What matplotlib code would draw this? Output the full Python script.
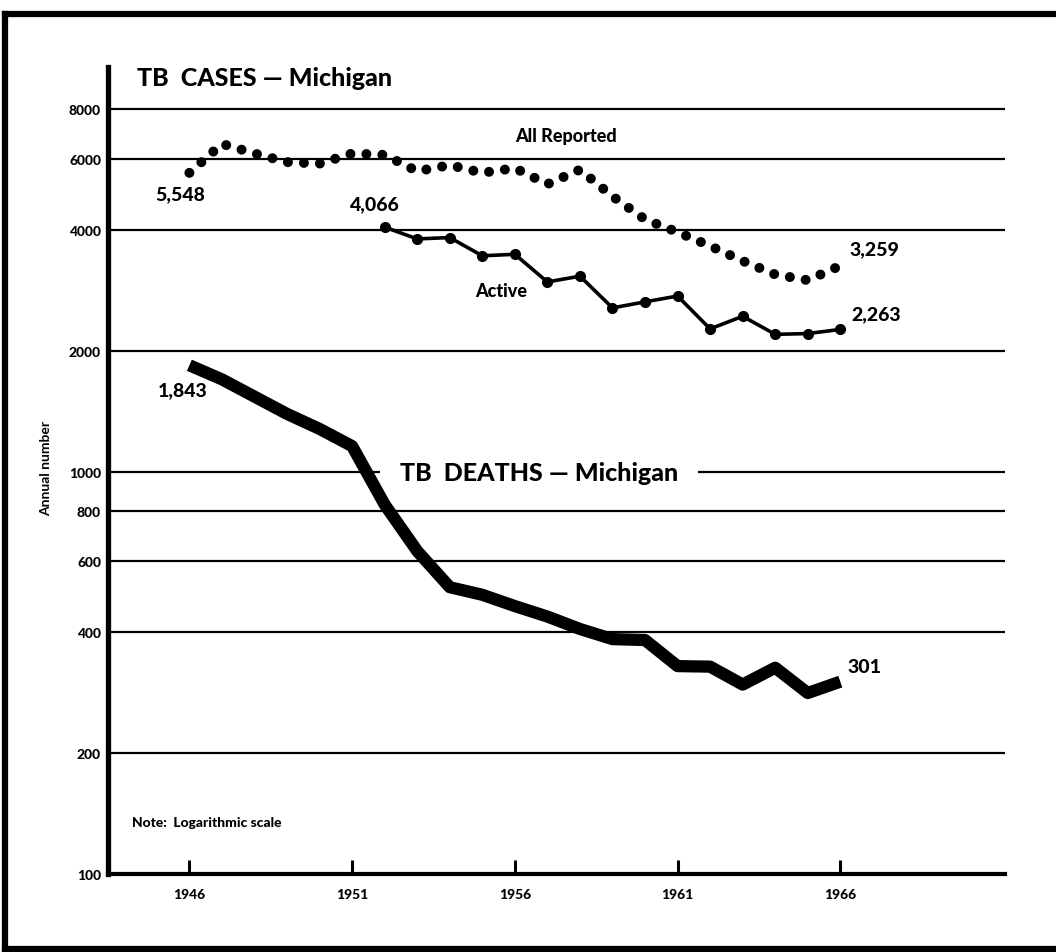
import matplotlib
matplotlib.use("Agg")
import matplotlib.pyplot as plt
from matplotlib.lines import Line2D

# ---------------------
# Data
# ---------------------
years = list(range(1946, 1967))
all_reported = [5548, 6550, 6200, 5900, 5850, 6200, 6150, 5600, 5800, 5550,
                5700, 5200, 5650, 4850, 4250, 3950, 3650, 3350, 3100, 3000, 3259]

active_years = list(range(1952, 1967))
active = [4066, 3800, 3830, 3450, 3480, 2970, 3070, 2560, 2650, 2740,
          2270, 2440, 2200, 2210, 2263]

deaths = [1843, 1700, 1540, 1395, 1280, 1160, 830, 636, 517, 495,
          464, 437, 407, 384, 382, 329, 328, 296, 326, 282, 301]

ytick_vals = [100, 200, 400, 600, 800, 1000, 2000, 4000, 6000, 8000]
ytick_labels = ["100", "200", "400", "600", "800", "1000", "2000", "4000", "6000", "8000"]
xtick_vals = [1946, 1951, 1956, 1961, 1966]
xtick_labels = ["1946", "1951", "1956", "1961", "1966"]

FONT = ["Lato", "DejaVu Sans"]
plt.rcParams["font.family"] = FONT
HEAVY = "black"

# ---------------------
# Figure
# ---------------------
fig = plt.figure(figsize=(10.56, 9.53), dpi=100)
ax = fig.add_axes([0.1023, 0.0818, 0.8494, 0.8468])

ax.set_yscale("log")
ax.set_xlim(1943.5, 1971.06)
ax.set_ylim(100, 10170)

# all reported: big round dots
ax.plot(years, all_reported, color="black", lw=7.2,
        linestyle=(0, (0.001, 1.6)), dash_capstyle="round", zorder=3)
# active: line with dots at each year
ax.plot(active_years, active, color="black", lw=2.6, marker="o", ms=7, zorder=3)
# deaths: heavy line
ax.plot(years, deaths, color="black", lw=8.8, solid_capstyle="butt",
        solid_joinstyle="round", zorder=5)

# axes styling
ax.set_yticks(ytick_vals)
ax.set_yticklabels(ytick_labels)
ax.yaxis.set_minor_locator(matplotlib.ticker.NullLocator())
ax.set_xticks(xtick_vals)
ax.set_xticklabels(xtick_labels)
ax.tick_params(axis="y", length=0, pad=5, labelsize=10)
ax.tick_params(axis="x", direction="in", length=10, width=2.2, pad=10, labelsize=10)
for lbl in ax.get_xticklabels() + ax.get_yticklabels():
    lbl.set_fontweight(HEAVY)
ax.grid(axis="y", color="black", lw=1.6, zorder=1)
ax.set_axisbelow(True)

for side in ["top", "right"]:
    ax.spines[side].set_visible(False)
ax.spines["left"].set_linewidth(3.8)
ax.spines["bottom"].set_linewidth(3.0)

# ---------------------
# Text
# ---------------------
ax.text(1944.40, 9600, "TB  CASES \u2014 Michigan", fontsize=18, fontweight=HEAVY,
        va="center", ha="left")
ax.text(1956.0, 6890, "All Reported", fontsize=13, fontweight=HEAVY, va="center", ha="left")
ax.text(1954.77, 2836, "Active", fontsize=13, fontweight=HEAVY, va="center", ha="left")
ax.text(1945.72, 4915, "5,548", fontsize=14, fontweight=HEAVY, va="center", ha="center")
ax.text(1951.71, 4642, "4,066", fontsize=14, fontweight=HEAVY, va="center", ha="center")
ax.text(1966.28, 3586, "3,259", fontsize=14, fontweight=HEAVY, va="center", ha="left")
ax.text(1966.34, 2472, "2,263", fontsize=14, fontweight=HEAVY, va="center", ha="left")
ax.text(1945.79, 1600, "1,843", fontsize=14, fontweight=HEAVY, va="center", ha="center")
ax.text(1966.21, 329, "301", fontsize=14, fontweight=HEAVY, va="center", ha="left")
ax.text(1952.47, 1000, "TB  DEATHS \u2014 Michigan", fontsize=18, fontweight=HEAVY,
        va="center", ha="left", zorder=4,
        bbox=dict(facecolor="white", edgecolor="none", pad=14))
ax.text(1944.25, 134.7, "Note:  Logarithmic scale", fontsize=10, fontweight=HEAVY,
        va="center", ha="left")

fig.text(46 / 1056, 1 - 468 / 953, "Annual number", rotation=90, fontsize=10,
         fontweight="bold", va="center", ha="center")

# outer frame (top, left, bottom)
frame_kw = dict(color="black", lw=4.5, transform=fig.transFigure)
fig.add_artist(Line2D([0.005, 1.0], [1 - 15 / 953, 1 - 15 / 953], **frame_kw))
fig.add_artist(Line2D([0.005, 0.005], [1 - 15 / 953, 1 - 950 / 953], **frame_kw))
fig.add_artist(Line2D([0.005, 1.0], [1 - 950 / 953, 1 - 950 / 953], **frame_kw))

fig.savefig("out.png", dpi=100)
plt.close(fig)
